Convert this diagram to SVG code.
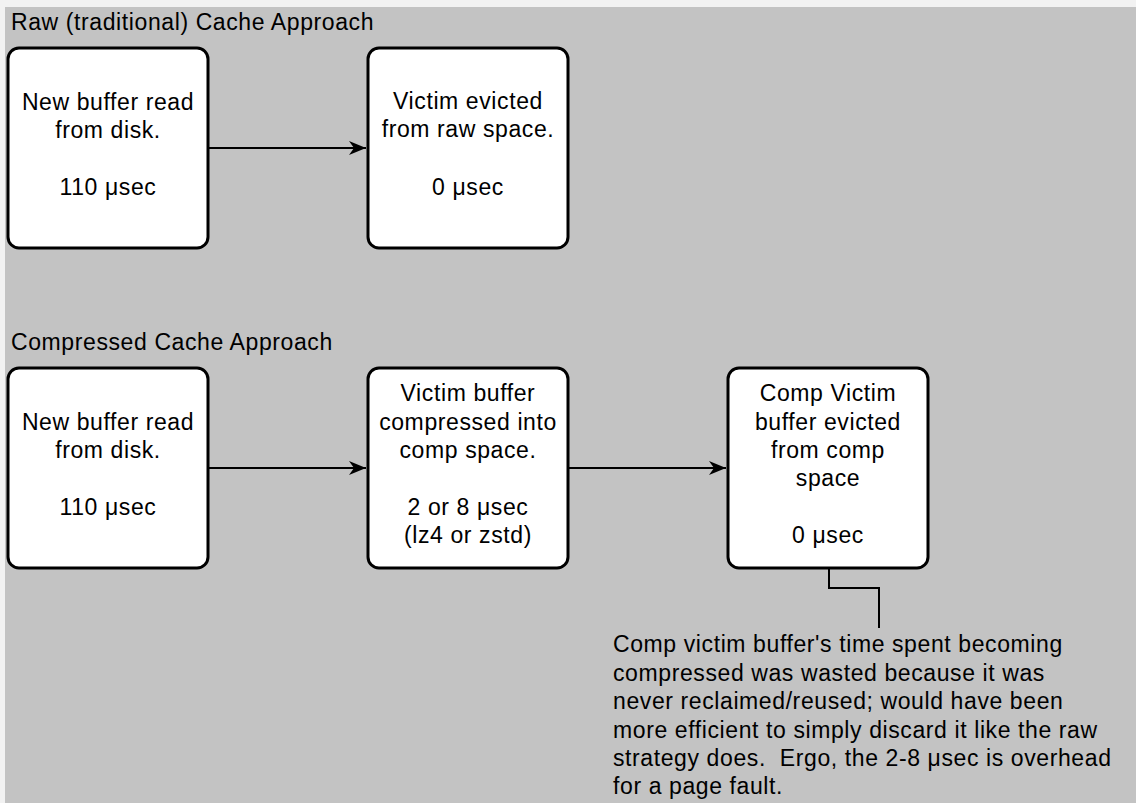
<svg xmlns="http://www.w3.org/2000/svg" width="1136" height="803" viewBox="0 0 1136 803">
<defs>
<style>
text{font-family:"Liberation Sans",Arial,sans-serif;font-size:23px;fill:#000;letter-spacing:0.6px;white-space:pre}
.c{text-anchor:middle}
.box{fill:#fff;stroke:#000;stroke-width:3}
.conn{fill:none;stroke:#000;stroke-width:2}
</style>
<marker id="ah" viewBox="0 0 17 14" refX="17" refY="7" markerWidth="17" markerHeight="14" markerUnits="userSpaceOnUse" orient="auto">
<path d="M0,0 L17,7 L0,14 L5,7 Z" fill="#000"/>
</marker>
</defs>
<rect x="0" y="0" width="1136" height="803" fill="#f2f2f2"/>
<rect x="5" y="7" width="1131" height="796" fill="#c3c3c3"/>
<text x="11" y="30">Raw (traditional) Cache Approach</text>
<text x="11" y="350">Compressed Cache Approach</text>
<g id="connectors">
<line class="conn" x1="209" y1="148" x2="366" y2="148" marker-end="url(#ah)"/>
<line class="conn" x1="209" y1="468" x2="366" y2="468" marker-end="url(#ah)"/>
<line class="conn" x1="569" y1="468" x2="726" y2="468" marker-end="url(#ah)"/>
<polyline class="conn" points="829,569 829,588 879,588 879,628"/>
</g>
<g id="raw-new">
<rect class="box" x="8" y="48" width="200" height="200" rx="11"/>
<text class="c" x="108" y="110">New buffer read</text>
<text class="c" x="108" y="138">from disk.</text>
<text class="c" x="108" y="195">110 μsec</text>
</g>
<g id="raw-victim">
<rect class="box" x="368" y="48" width="200" height="200" rx="11"/>
<text class="c" x="468" y="109">Victim evicted</text>
<text class="c" x="468" y="137">from raw space.</text>
<text class="c" x="468" y="195">0 μsec</text>
</g>
<g id="comp-new">
<rect class="box" x="8" y="368" width="200" height="200" rx="11"/>
<text class="c" x="108" y="430">New buffer read</text>
<text class="c" x="108" y="458">from disk.</text>
<text class="c" x="108" y="515">110 μsec</text>
</g>
<g id="comp-victim">
<rect class="box" x="368" y="368" width="200" height="200" rx="11"/>
<text class="c" x="468" y="401">Victim buffer</text>
<text class="c" x="468" y="429.5">compressed into</text>
<text class="c" x="468" y="458">comp space.</text>
<text class="c" x="468" y="514.5">2 or 8 μsec</text>
<text class="c" x="468" y="543">(lz4 or zstd)</text>
</g>
<g id="comp-evicted">
<rect class="box" x="728" y="368" width="200" height="200" rx="11"/>
<text class="c" x="828" y="401">Comp Victim</text>
<text class="c" x="828" y="429.5">buffer evicted</text>
<text class="c" x="828" y="458">from comp</text>
<text class="c" x="828" y="486">space</text>
<text class="c" x="828" y="543">0 μsec</text>
</g>
<g id="note">
<text x="613" y="652">Comp victim buffer's time spent becoming</text>
<text x="613" y="680.5">compressed was wasted because it was</text>
<text x="613" y="709">never reclaimed/reused; would have been</text>
<text x="613" y="737.5">more efficient to simply discard it like the raw</text>
<text x="613" y="766">strategy does.  Ergo, the 2-8 μsec is overhead</text>
<text x="613" y="794">for a page fault.</text>
</g>
</svg>
